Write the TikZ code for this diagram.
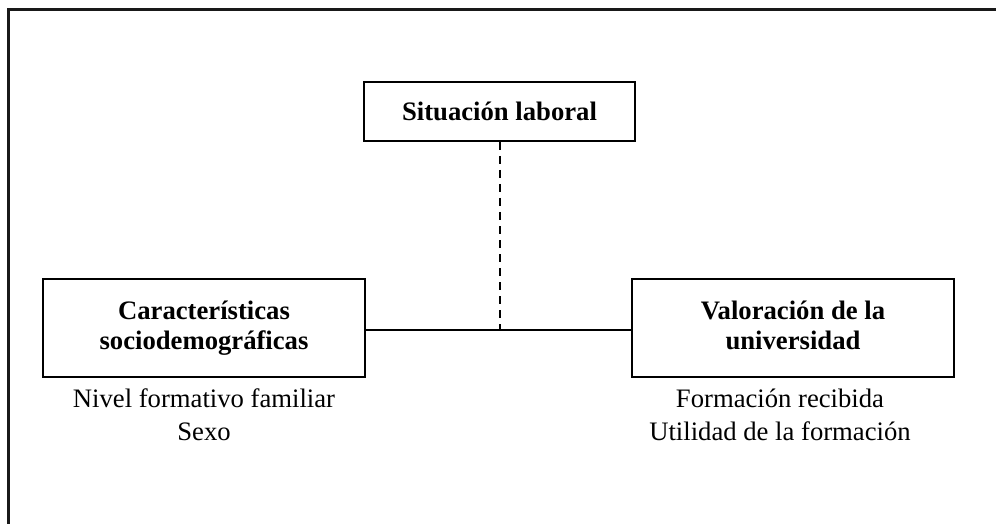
\documentclass[tikz,border=0pt]{standalone}
\usepackage{fontspec}
\setmainfont{Liberation Serif}
\begin{document}
\begin{tikzpicture}[x=0.75pt,y=-0.75pt,
  frame/.style={line width=1.6pt, draw=black!90},
  varbox/.style={draw, line width=1.5pt, rectangle, inner sep=0pt, align=center,
    font=\fontsize{20}{22.5}\selectfont\bfseries},
  items/.style={align=center, inner sep=0pt, anchor=base,
    font=\fontsize{20}{24.5}\selectfont},
  link/.style={line width=1.5pt},
  dlink/.style={line width=1.5pt, dash pattern=on 6pt off 4.5pt}]
\useasboundingbox (0,0) rectangle (996,524);
\begin{scope}
\clip (0,0) rectangle (996,524);
\draw[frame] (8.5,9.5) rectangle (1100,620);
\end{scope}
\node[varbox, minimum width=271*0.75pt, minimum height=59*0.75pt] (sit) at (499.5,111.5) {Situación laboral};
\node[varbox, minimum width=322*0.75pt, minimum height=98*0.75pt] (car) at (204,328) {Características\\sociodemográficas};
\node[varbox, minimum width=322*0.75pt, minimum height=98*0.75pt] (val) at (793,328) {Valoración de la\\universidad\vphantom{g}};
\node[items] (cari) at (204,440) {Nivel formativo familiar\\Sexo};
\node[items] (vali) at (780,440) {Formación recibida\\Utilidad de la formación};
\draw[link] (car.east |- 0,330) coordinate (j1) -- (val.west |- 0,330) coordinate (j2);
\coordinate (mid) at (sit.south |- j1);
\draw[dlink] (sit.south) -- (mid);
\end{tikzpicture}
\end{document}
